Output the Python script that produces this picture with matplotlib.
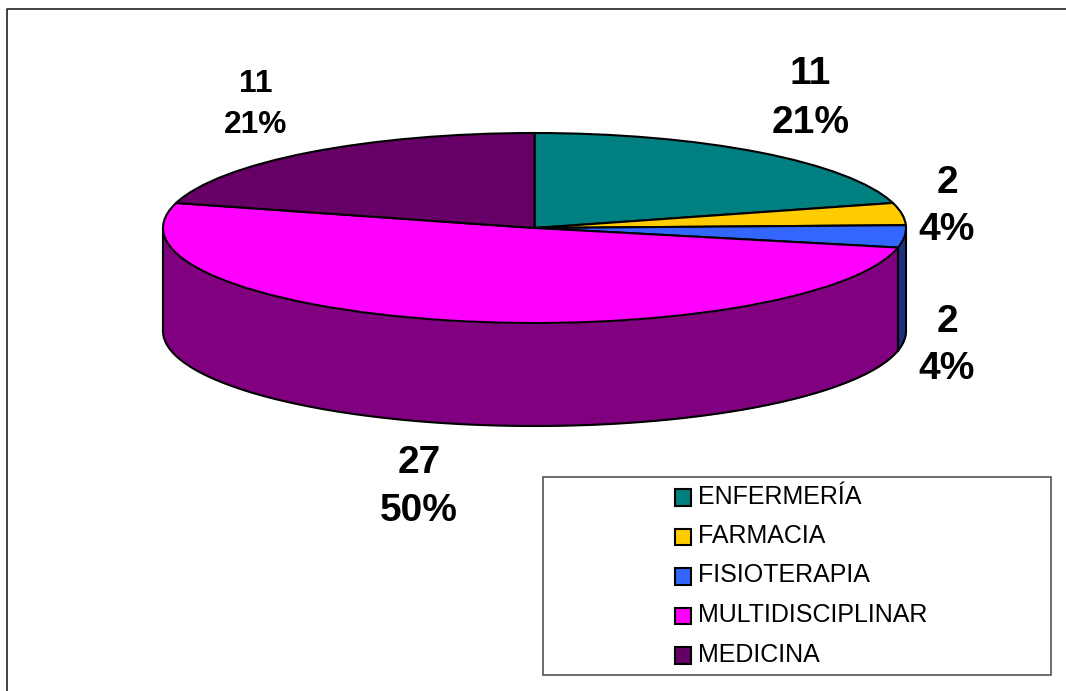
import numpy as np
import matplotlib.pyplot as plt
from matplotlib.lines import Line2D
from matplotlib.patches import Rectangle

plt.rcParams["font.family"] = ["Liberation Sans", "DejaVu Sans"]

categories = ["ENFERMERÍA", "FARMACIA", "FISIOTERAPIA", "MULTIDISCIPLINAR", "MEDICINA"]
values = [11, 2, 2, 27, 11]
percents = ["21%", "4%", "4%", "50%", "21%"]
colors = ["#008080", "#FFCC00", "#3366FF", "#FF00FF", "#660066"]
wall_colors = ["#004040", "#806600", "#1C2F85", "#800080", "#330033"]

W, H = 1066, 691
cx, cy, rx, ry = 534.5, 228, 371.5, 95  # elipsa wierzchu w pikselach
depth = 103 / ry

fig = plt.figure(figsize=(W / 100, H / 100), dpi=100)
# ramka widoczna tylko u gory i z lewej, reszta ucieta
fig.add_artist(Line2D([7 / W, 7 / W, 1], [0, 1 - 9 / H, 1 - 9 / H], color="#222222", linewidth=1.2))

ax = fig.add_axes([0, 0, 1, 1])
wedges, _ = ax.pie(
    values, colors=colors, startangle=90, counterclock=False, radius=1,
    wedgeprops={"edgecolor": "black", "linewidth": 1.5, "zorder": 3},
)
ax.set_aspect("auto")
ax.set_xlim(-cx / rx, (W - cx) / rx)
ax.set_ylim((cy - H) / ry, cy / ry)

# bok "3D" - tylko widoczna dolna polowa
edges = np.cumsum([0] + values) / sum(values) * 360
for i in range(len(values)):
    t0, t1 = max(edges[i], 90), min(edges[i + 1], 270)
    if t1 <= t0:
        continue
    t = np.radians(np.linspace(t0, t1, 200))
    x, y = np.sin(t), np.cos(t)
    ax.fill_between(x, y, y - depth, color=wall_colors[i], linewidth=0, zorder=1)
    ax.plot(x, y - depth, color="black", linewidth=1.5, zorder=2)
    ax.plot([x[0], x[0]], [y[0], y[0] - depth], color="black", linewidth=1.5, zorder=2)
    ax.plot([x[-1], x[-1]], [y[-1], y[-1] - depth], color="black", linewidth=1.5, zorder=2)


def label(px, py, text, size):
    fig.text(px / W, 1 - py / H, text, fontsize=size, fontweight="bold",
             ha="center", va="baseline", color="black")


# x, linia bazowa wartosci, linia bazowa procentu, rozmiar
label_pos = [(810.5, 84, 133, 28), (947, 193, 240, 28), (947, 332, 379, 28),
             (419, 473, 521, 28), (255.5, 92, 133, 22.8)]
for v, p, (px, y1, y2, size) in zip(values, percents, label_pos):
    label(px, y1, str(v), size)
    label(px, y2, p, size)

# legenda
fig.patches.append(
    Rectangle((543 / W, 1 - 675 / H), 508 / W, 198 / H, transform=fig.transFigure,
              facecolor="white", edgecolor="#444444", linewidth=1.1, zorder=5)
)
leg = fig.legend(
    wedges, categories, loc="center left", bbox_to_anchor=(674.5 / W, 1 - 575.5 / H),
    frameon=False, fontsize=18, handlelength=0.64, handleheight=0.64,
    handletextpad=0.3, labelspacing=0.62, borderpad=0, borderaxespad=0,
)
for h in leg.legend_handles:
    h.set_y(h.get_y() - 2)

plt.savefig("out.png", dpi=100)
